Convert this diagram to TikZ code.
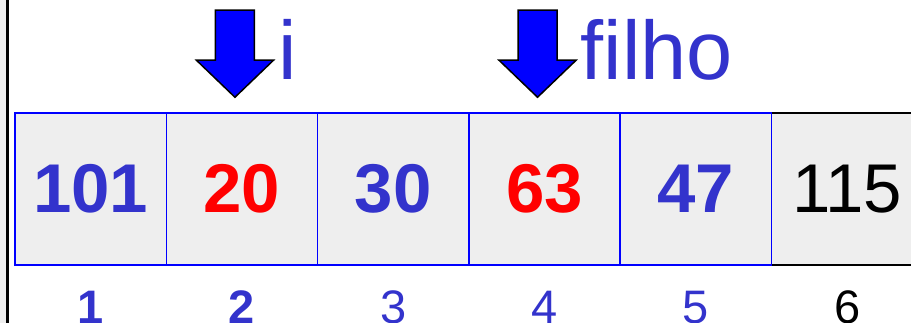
\documentclass[tikz,border=0pt]{standalone}
\usepackage{fontspec}
\setmainfont[Ligatures={TeX,NoCommon}]{Liberation Sans}
\usetikzlibrary{positioning}
\definecolor{idxblue}{RGB}{51,51,204}
\definecolor{cellgray}{RGB}{238,238,238}

\begin{document}
\begin{tikzpicture}[x=1pt, y=-1pt,
  cell/.style={rectangle, draw=blue, fill=cellgray, line width=1.5pt,
    minimum width=151.3pt, minimum height=152pt, inner sep=0pt,
    font=\bfseries\fontsize{69}{80}\selectfont},
  idx/.style={inner sep=0pt, text=idxblue, font=\fontsize{47}{56}\selectfont},
  ptr/.style={fill=blue, draw=black, line width=1.5pt, line join=miter},
  ptrlabel/.style={anchor=base west, inner sep=0pt, text=idxblue,
    font=\fontsize{83}{96}\selectfont}]
  \useasboundingbox (0,0) rectangle (911,323);
  \clip (0,0) rectangle (911,323);
  % box at the left edge, mostly off the page
  \draw[fill=cellgray, line width=2.5pt] (-60,-10) rectangle (7.3,340);
  % the array
  \node[cell, draw=black, font=\fontsize{69}{80}\selectfont] (c6) at (847.15,189) {115};
  \foreach \v/\c [count=\k] in {101/idxblue, 20/red, 30/idxblue, 63/red, 47/idxblue}
    \node[cell, text=\c] (c\k) at ({90.65+151.3*(\k-1)},189) {\v};
  % indices (1 and 2 in bold)
  \foreach \k in {1,2}
    \node[idx, font=\bfseries\fontsize{47}{56}\selectfont, below=25pt of c\k] (n\k) {\k};
  \foreach \k in {3,4,5}
    \node[idx, below=25pt of c\k] (n\k) {\k};
  \node[idx, text=black, below=25pt of c6] (n6) {6};
  % pointers i and filho
  \foreach \cl/\nm in {c2/i, c4/filho} {
    \coordinate[above=15pt of \cl, xshift=-7pt] (tip\nm);
    \draw[ptr] (tip\nm) -- ++(-38.5,-37) -- ++(19,0) -- ++(0,-50)
      -- ++(39,0) -- ++(0,50) -- ++(19,0) -- cycle;
    \node[ptrlabel] (lbl\nm) at ([shift={(43pt,18pt)}]tip\nm) {\nm};
  }
\end{tikzpicture}
\end{document}
